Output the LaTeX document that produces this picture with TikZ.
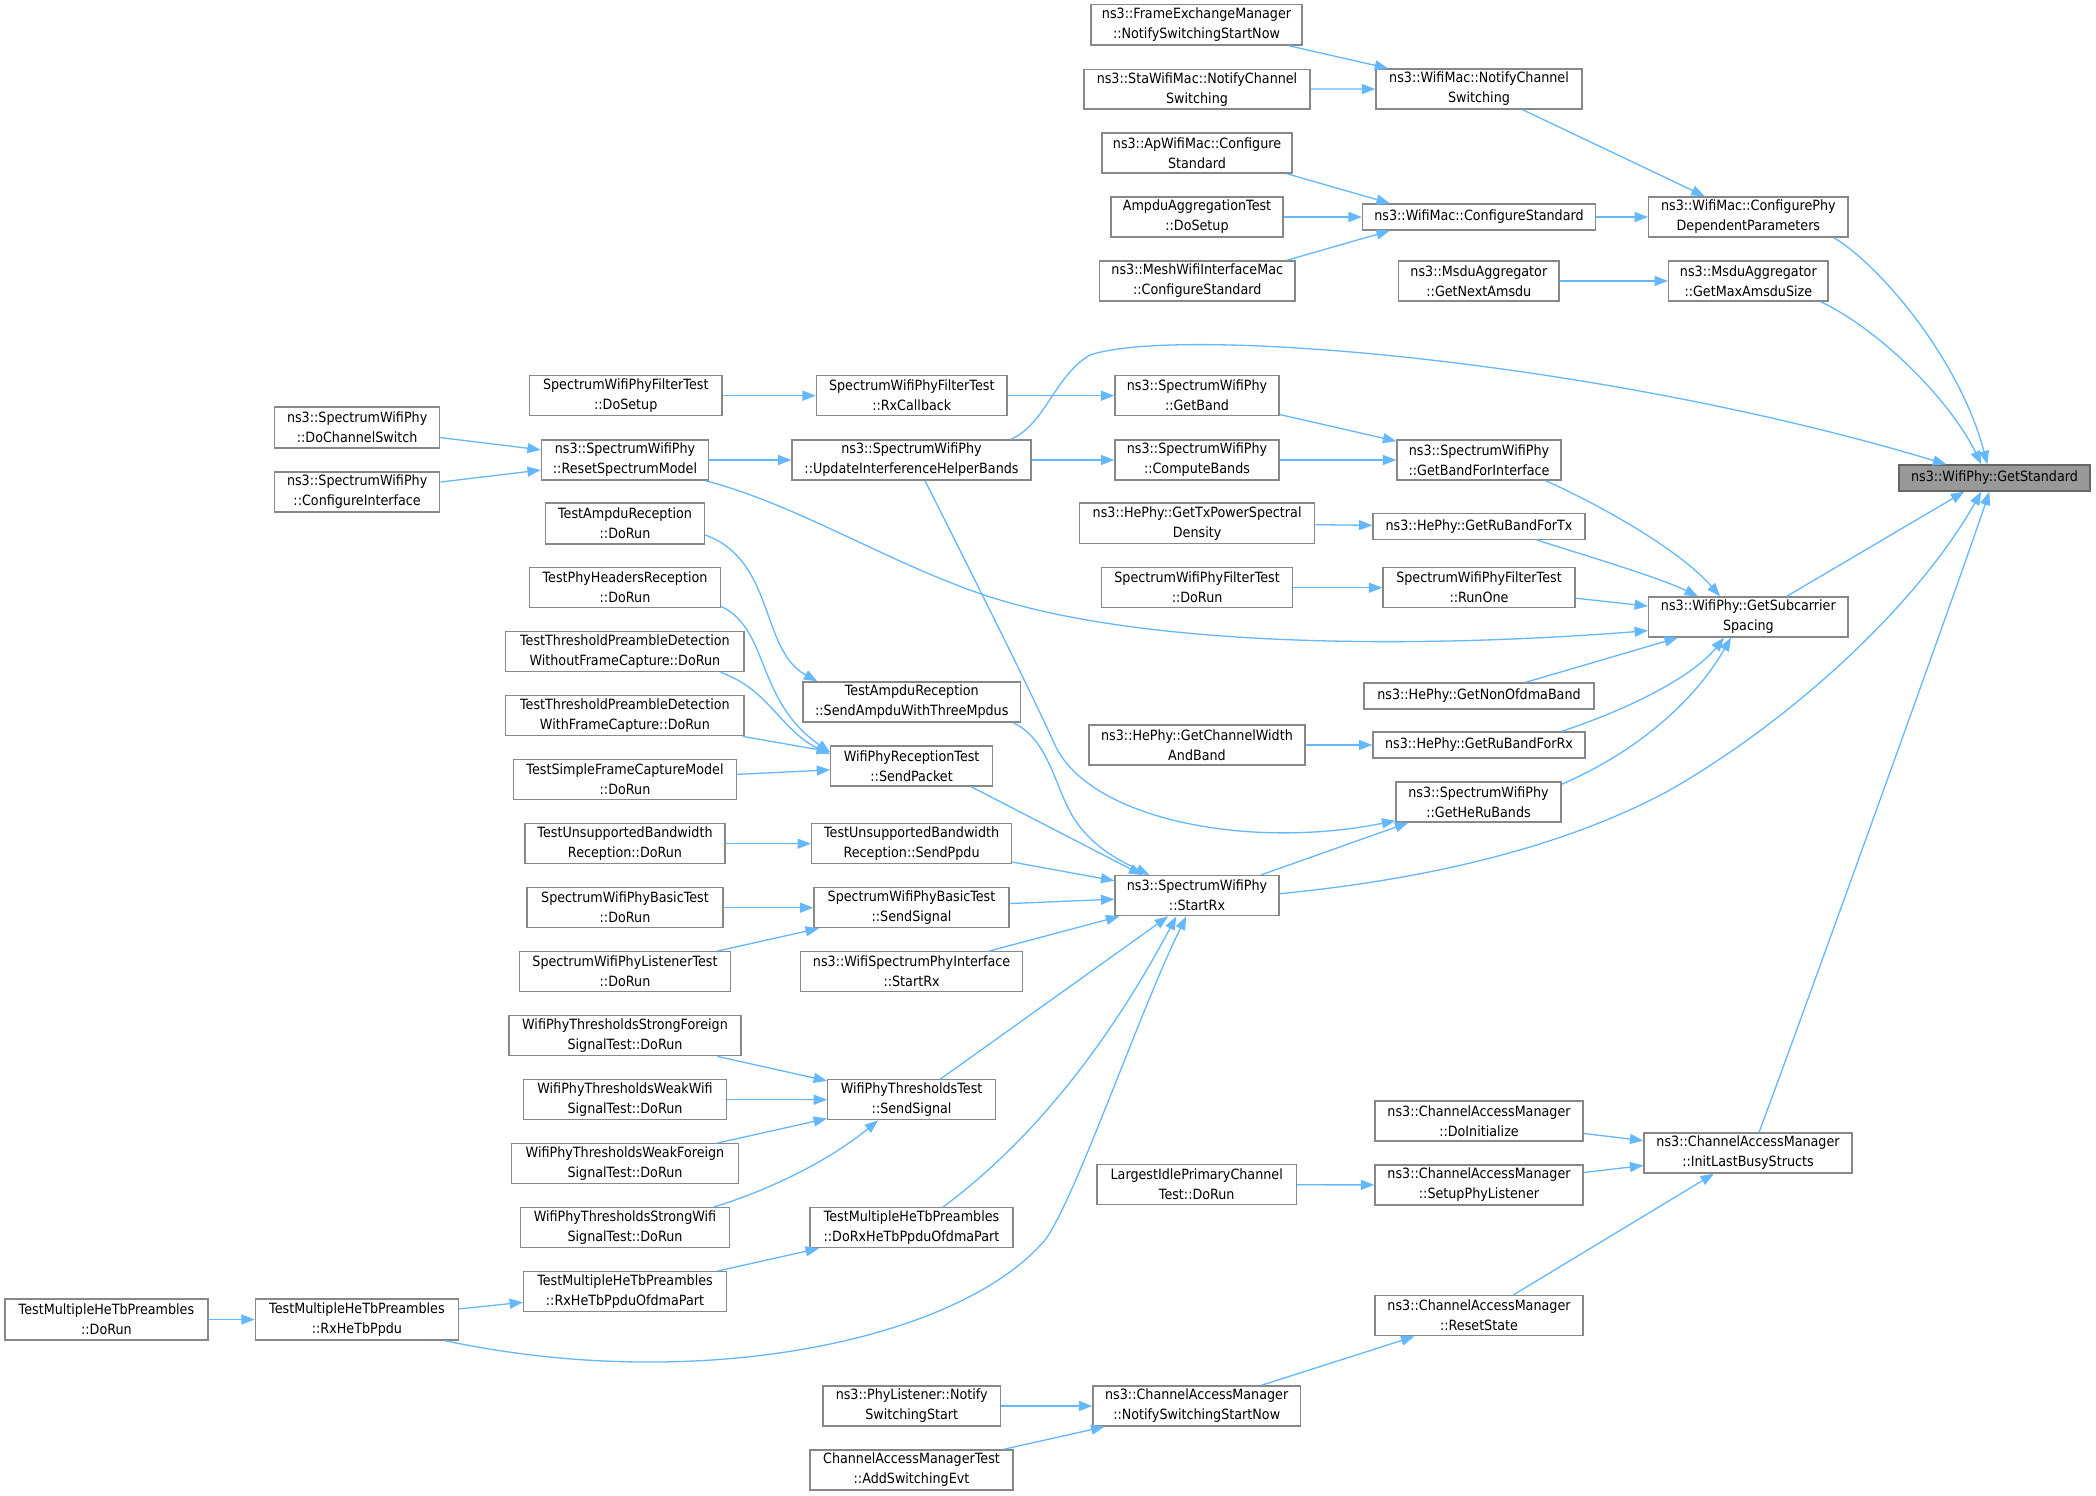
\documentclass[tikz,border=0pt]{standalone}
\usepackage{fontspec}
\setmainfont{DejaVu Sans}[FakeStretch=0.9]
\usetikzlibrary{arrows.meta,calc}
\definecolor{edgeblue}{HTML}{63B8FF}
\definecolor{boxgrey}{HTML}{888888}
\definecolor{curfill}{HTML}{999999}
\definecolor{curdraw}{HTML}{666666}
\newcommand\fnbox[7][]{%
  \pgfmathsetmacro\bxw{#5-#3}%
  \pgfmathsetmacro\bxh{#6-#4}%
  \pgfmathsetmacro\bxx{(#3+#5)/2}%
  \pgfmathsetmacro\bxy{(#4+#6)/2+1}%
  \node[fn,minimum width=\bxw pt,minimum height=\bxh pt,#1] (#2) at (\bxx,\bxy) {#7};}
\begin{document}
\begin{tikzpicture}[x=1pt,y=-1pt,
  fn/.style={draw=boxgrey,line width=1.35pt,fill=white,inner sep=0pt,align=center,
    font=\fontsize{14.15}{20}\selectfont},
  cur/.style={fill=curfill,draw=curdraw},
  ed/.style={draw=edgeblue,line width=1.3pt,-{Triangle[length=13.4pt,width=10pt]}}]
\fill[white] (0,0) rectangle (2096,1496);
\useasboundingbox (0,0) rectangle (2096,1496);
% right-most
\fnbox[cur]{gs}{1899}{464}{2090}{490}{ns3::WifiPhy::GetStandard}
% column 5
\fnbox{cpdp}{1648.7}{196}{1848}{236}{ns3::WifiMac::ConfigurePhy\\DependentParameters}
\fnbox{gmas}{1668.7}{260}{1828}{300}{ns3::MsduAggregator\\::GetMaxAmsduSize}
\fnbox{gss}{1648.7}{596}{1848}{636}{ns3::WifiPhy::GetSubcarrier\\Spacing}
\fnbox{ilbs}{1644}{1132}{1852}{1172}{ns3::ChannelAccessManager\\::InitLastBusyStructs}
% column 4
\fnbox{wmncs}{1376}{68}{1582}{108}{ns3::WifiMac::NotifyChannel\\Switching}
\fnbox{wmcs}{1362.5}{203}{1595.5}{229}{ns3::WifiMac::ConfigureStandard}
\fnbox{gna}{1398.7}{260}{1559}{300}{ns3::MsduAggregator\\::GetNextAmsdu}
\fnbox{gbfi}{1397}{439}{1561}{479}{ns3::SpectrumWifiPhy\\::GetBandForInterface}
\fnbox{grbtx}{1373}{512.7}{1585}{538.3}{ns3::HePhy::GetRuBandForTx}
\fnbox{runone}{1383}{566.7}{1575}{606.7}{SpectrumWifiPhyFilterTest\\::RunOne}
\fnbox{gnob}{1364}{682}{1594}{708}{ns3::HePhy::GetNonOfdmaBand}
\fnbox{grbrx}{1373}{731}{1585}{757}{ns3::HePhy::GetRuBandForRx}
\fnbox{ghrb}{1396}{781}{1561}{821}{ns3::SpectrumWifiPhy\\::GetHeRuBands}
\fnbox{doinit}{1375}{1100}{1583}{1140}{ns3::ChannelAccessManager\\::DoInitialize}
\fnbox{setup}{1375}{1164}{1583}{1204}{ns3::ChannelAccessManager\\::SetupPhyListener}
\fnbox{reset}{1375}{1294.7}{1583}{1334.7}{ns3::ChannelAccessManager\\::ResetState}
% column 3
\fnbox{fem}{1091}{3.5}{1302}{44}{ns3::FrameExchangeManager\\::NotifySwitchingStartNow}
\fnbox{sta}{1084}{68.3}{1310}{108}{ns3::StaWifiMac::NotifyChannel\\Switching}
\fnbox{ap}{1102}{132}{1292}{172}{ns3::ApWifiMac::Configure\\Standard}
\fnbox{aat}{1111}{196}{1283}{236}{AmpduAggregationTest\\::DoSetup}
\fnbox{mesh}{1099.5}{260}{1295}{300}{ns3::MeshWifiInterfaceMac\\::ConfigureStandard}
\fnbox{gband}{1115}{374.7}{1279}{414.7}{ns3::SpectrumWifiPhy\\::GetBand}
\fnbox{cb}{1115}{439}{1279}{479}{ns3::SpectrumWifiPhy\\::ComputeBands}
\fnbox{gtx}{1079.5}{502}{1314.7}{542.7}{ns3::HePhy::GetTxPowerSpectral\\Density}
\fnbox{fdorun}{1101.8}{566.7}{1292.4}{606.7}{SpectrumWifiPhyFilterTest\\::DoRun}
\fnbox{gcwb}{1089}{724}{1305}{764}{ns3::HePhy::GetChannelWidth\\AndBand}
\fnbox{startrx}{1115}{874.7}{1279}{914.7}{ns3::SpectrumWifiPhy\\::StartRx}
\fnbox{lip}{1097}{1163.7}{1296.4}{1203.7}{LargestIdlePrimaryChannel\\Test::DoRun}
\fnbox{nssn}{1093}{1385}{1300.4}{1425}{ns3::ChannelAccessManager\\::NotifySwitchingStartNow}
% column 2
\fnbox{rxcb}{816.5}{374.7}{1007}{414.7}{SpectrumWifiPhyFilterTest\\::RxCallback}
\fnbox{uihb}{792}{439}{1031}{479}{ns3::SpectrumWifiPhy\\::UpdateInterferenceHelperBands}
\fnbox{sampdu}{803}{681}{1020.5}{721}{TestAmpduReception\\::SendAmpduWithThreeMpdus}
\fnbox{spkt}{830.8}{745}{992.4}{785}{WifiPhyReceptionTest\\::SendPacket}
\fnbox{sppdu}{811.6}{822.7}{1011.6}{862.7}{TestUnsupportedBandwidth\\Reception::SendPpdu}
\fnbox{bss}{814}{886.7}{1009}{926.7}{SpectrumWifiPhyBasicTest\\::SendSignal}
\fnbox{wspi}{800.4}{950.7}{1022.8}{990.7}{ns3::WifiSpectrumPhyInterface\\::StartRx}
\fnbox{tss}{827.7}{1078.7}{995.5}{1118.7}{WifiPhyThresholdsTest\\::SendSignal}
\fnbox{dorx}{810}{1206.7}{1013}{1246.7}{TestMultipleHeTbPreambles\\::DoRxHeTbPpduOfdmaPart}
\fnbox{pls}{823}{1385}{1000.4}{1425}{ns3::PhyListener::Notify\\SwitchingStart}
\fnbox{cam}{810}{1449}{1013}{1489}{ChannelAccessManagerTest\\::AddSwitchingEvt}
% column 1
\fnbox{dosetup}{529.5}{374.7}{722}{414.7}{SpectrumWifiPhyFilterTest\\::DoSetup}
\fnbox{rsm}{541.5}{439}{708.5}{479}{ns3::SpectrumWifiPhy\\::ResetSpectrumModel}
\fnbox{tard}{545.5}{502}{704.5}{543}{TestAmpduReception\\::DoRun}
\fnbox{tphr}{529.5}{566.7}{720.5}{606.7}{TestPhyHeadersReception\\::DoRun}
\fnbox{woc}{505.8}{630.7}{744}{670.7}{TestThresholdPreambleDetection\\WithoutFrameCapture::DoRun}
\fnbox{wfc}{505.8}{694.7}{744}{734.7}{TestThresholdPreambleDetection\\WithFrameCapture::DoRun}
\fnbox{sfcm}{513.4}{758.7}{736.6}{798.7}{TestSimpleFrameCaptureModel\\::DoRun}
\fnbox{tubr}{525}{822.7}{725}{862.7}{TestUnsupportedBandwidth\\Reception::DoRun}
\fnbox{bdr}{527}{886.7}{723}{926.7}{SpectrumWifiPhyBasicTest\\::DoRun}
\fnbox{ldr}{519.6}{950.7}{730.4}{990.7}{SpectrumWifiPhyListenerTest\\::DoRun}
\fnbox{sfs}{509}{1014.7}{741}{1054.7}{WifiPhyThresholdsStrongForeign\\SignalTest::DoRun}
\fnbox{wws}{523.7}{1078.7}{726.3}{1118.7}{WifiPhyThresholdsWeakWifi\\SignalTest::DoRun}
\fnbox{wfs}{511.6}{1142.7}{738.4}{1182.7}{WifiPhyThresholdsWeakForeign\\SignalTest::DoRun}
\fnbox{sws}{520.5}{1206.7}{729.5}{1246.7}{WifiPhyThresholdsStrongWifi\\SignalTest::DoRun}
\fnbox{rxofdma}{523.7}{1270.7}{726.3}{1310.7}{TestMultipleHeTbPreambles\\::RxHeTbPpduOfdmaPart}
% column 0
\fnbox{dcs}{274.6}{406}{439.7}{447}{ns3::SpectrumWifiPhy\\::DoChannelSwitch}
\fnbox{ci}{274.6}{471}{439.7}{511}{ns3::SpectrumWifiPhy\\::ConfigureInterface}
\fnbox{rxhe}{255.4}{1298}{458.5}{1339}{TestMultipleHeTbPreambles\\::RxHeTbPpdu}
\fnbox{tmdr}{4.9}{1298}{208}{1339}{TestMultipleHeTbPreambles\\::DoRun}
% ---------------- edges
\draw[ed] (fem) -- (wmncs);
\draw[ed] (sta) -- (wmncs);
\draw[ed] (wmncs) -- (cpdp);
\draw[ed] ($(ap.south east)+(-6,0)$) -- ($(wmcs.north west)+(28,0)$);
\draw[ed] (aat) -- (wmcs);
\draw[ed] ($(mesh.north east)+(-9,0)$) -- ($(wmcs.south west)+(28,0)$);
\draw[ed] (wmcs) -- (cpdp);
\draw[ed] ($(cpdp.south east)+(-15,0)$) .. controls (1880,265) and (1960,360) .. ($(gs.north west)+(89,0)$);
\draw[ed] (gna) -- (gmas);
\draw[ed] ($(gmas.south east)+(-8,0)$) .. controls (1880,330) and (1950,400) .. ($(gs.north west)+(83,0)$);
\draw[ed] ($(uihb.north east)+(-21,0)$) .. controls (1045,425) and (1055,375) .. (1090,355)
   .. controls (1180,325) and (1600,360) .. ($(gs.north west)+(48,0)$);
\draw[ed] (dosetup) -- (rxcb);
\draw[ed] (rxcb) -- (gband);
\draw[ed] (gband) -- (gbfi);
\draw[ed] (cb) -- (gbfi);
\draw[ed] (uihb) -- (cb);
\draw[ed] (rsm) -- (uihb);
\draw[ed] (dcs) -- (rsm);
\draw[ed] (ci) -- (rsm);
\draw[ed] ($(rsm.south east)+(-4,0)$) .. controls (800,505) and (900,570) .. (1000,600)
   .. controls (1150,645) and (1400,650) .. ($(gss.south west)+(0,-7)$);
\draw[ed] ($(gbfi.south east)+(-16,0)$) .. controls (1600,505) and (1680,550) .. ($(gss.north west)+(72,0)$);
\draw[ed] (gtx) -- (grbtx);
\draw[ed] ($(grbtx.south east)+(-49,0)$) .. controls (1600,560) and (1660,578) .. ($(gss.north west)+(50,0)$);
\draw[ed] (fdorun) -- (runone);
\draw[ed] (runone) -- (gss);
\draw[ed] (gnob) -- (gss);
\draw[ed] (gcwb) -- (grbrx);
\draw[ed] ($(grbrx.north east)+(-24,0)$) .. controls (1620,712) and (1690,680) .. ($(gss.south west)+(76,0)$);
\draw[ed] ($(ghrb.north east)+(0,3)$) .. controls (1640,750) and (1695,700) .. ($(gss.south west)+(83,0)$);
\draw[ed] ($(gss.north east)+(-62,0)$) -- ($(gs.south west)+(66,0)$);
\draw[ed] ($(startrx.east)+(0,-2)$) .. controls (1400,882) and (1550,855) .. (1670,790)
   .. controls (1800,715) and (1920,600) .. ($(gs.south west)+(83,0)$);
\draw[ed] ($(ilbs.north)+(11,0)$) .. controls (1790,1050) and (1960,580) .. ($(gs.south west)+(91,0)$);
\draw[ed] ($(startrx.north east)+(-19,0)$) -- ($(ghrb.south west)+(13,0)$);
\draw[ed] ($(uihb.south)+(13.5,0)$) .. controls (980,590) and (1030,690) .. (1055,745)
   .. controls (1090,820) and (1250,850) .. ($(ghrb.south west)+(0,-2)$);
\draw[ed] ($(sampdu.south east)+(-8,0)$) .. controls (1050,740) and (1055,790) .. (1075,820)
   .. controls (1095,850) and (1125,863) .. ($(startrx.north west)+(35,0)$);
\draw[ed] ($(tard.east)+(0,11.5)$) .. controls (775,560) and (760,650) .. ($(sampdu.north west)+(15,0)$);
\draw[ed] ($(tphr.south east)+(0,-2)$) .. controls (770,630) and (755,700) .. ($(spkt.north west)+(0,7)$);
\draw[ed] ($(woc.south east)+(-24,0)$) .. controls (770,690) and (780,730) .. ($(spkt.north west)+(0,9)$);
\draw[ed] (wfc) -- (spkt);
\draw[ed] (sfcm) -- (spkt);
\draw[ed] ($(spkt.south east)+(-22,0)$) -- ($(startrx.north west)+(28,0)$);
\draw[ed] (tubr) -- (sppdu);
\draw[ed] (sppdu) -- (startrx);
\draw[ed] (bdr) -- (bss);
\draw[ed] (ldr) -- (bss);
\draw[ed] (bss) -- (startrx);
\draw[ed] (wspi) -- (startrx);
\draw[ed] (tss) -- (startrx);
\draw[ed] (sfs) -- (tss);
\draw[ed] (wws) -- (tss);
\draw[ed] (wfs) -- (tss);
\draw[ed] ($(sws.north east)+(-16.5,0)$) .. controls (770,1190) and (830,1160) .. ($(tss.south west)+(51,0)$);
\draw[ed] ($(dorx.north)+(31.5,0)$) .. controls (1020,1150) and (1100,1060) .. ($(startrx.south west)+(62,0)$);
\draw[ed] (rxofdma) -- (dorx);
\draw[ed] (rxhe) -- (rxofdma);
\draw[ed] (tmdr) -- (rxhe);
\draw[ed] ($(rxhe.south east)+(-14,0)$) .. controls (700,1395) and (960,1340) .. (1045,1240)
   .. controls (1075,1200) and (1140,1010) .. ($(startrx.south west)+(72,0)$);
\draw[ed] (doinit) -- (ilbs);
\draw[ed] (setup) -- (ilbs);
\draw[ed] (lip) -- (setup);
\draw[ed] (reset) -- (ilbs);
\draw[ed] (nssn) -- (reset);
\draw[ed] (pls) -- (nssn);
\draw[ed] (cam) -- (nssn);
\end{tikzpicture}
\end{document}
